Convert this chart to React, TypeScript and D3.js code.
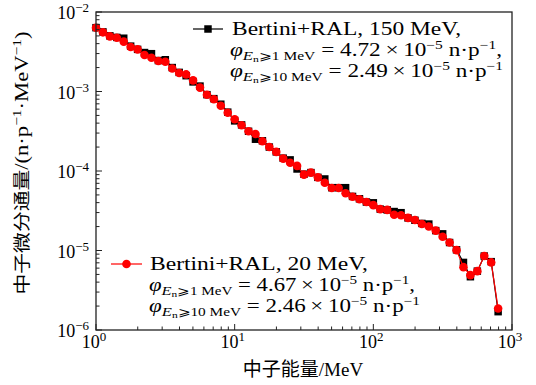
import React from 'react';
import * as d3 from 'd3';

// neutron energy bins (MeV)
const energy = [
  1.0, 1.122, 1.259, 1.413, 1.585, 1.778, 1.995, 2.239, 2.512, 2.818,
  3.162, 3.548, 3.981, 4.467, 5.012, 5.623, 6.31, 7.079, 7.943, 8.913,
  10.0, 11.22, 12.59, 14.13, 15.85, 17.78, 19.95, 22.39, 25.12, 28.18,
  31.62, 35.48, 39.81, 44.67, 50.12, 56.23, 63.1, 70.79, 79.43, 89.13,
  100, 112.2, 125.9, 141.3, 158.5, 177.8, 199.5, 223.9, 251.2, 281.8,
  316.2, 354.8, 398.1, 446.7, 501.2, 562.3, 631.0, 707.9, 794.3,
];

// Bertini+RAL, 150 MeV (black squares)
const flux150 = [
  6.35e-3, 5.62e-3, 5.01e-3, 4.79e-3, 4.68e-3, 3.72e-3, 3.39e-3, 3.09e-3, 2.99e-3, 2.45e-3,
  2.51e-3, 2.0e-3, 1.74e-3, 1.58e-3, 1.32e-3, 1.17e-3, 9.12e-4, 8.13e-4, 6.92e-4, 5.5e-4,
  4.27e-4, 3.8e-4, 3.16e-4, 2.51e-4, 2.4e-4, 2.0e-4, 1.74e-4, 1.45e-4, 1.38e-4, 1.06e-4,
  9.12e-5, 9.55e-5, 8.32e-5, 7.94e-5, 6.17e-5, 6.17e-5, 6.17e-5, 4.79e-5, 4.47e-5, 4.07e-5,
  3.98e-5, 3.31e-5, 3.24e-5, 3.09e-5, 2.99e-5, 2.57e-5, 2.4e-5, 2.19e-5, 2.15e-5, 1.78e-5,
  1.62e-5, 1.26e-5, 1.02e-5, 7.08e-6, 4.68e-6, 5.5e-6, 8.51e-6, 7.24e-6, 1.7e-6,
];

// Bertini+RAL, 20 MeV (red circles)
const flux20 = [
  6.35e-3, 5.55e-3, 4.94e-3, 4.75e-3, 4.24e-3, 3.63e-3, 3.39e-3, 2.88e-3, 2.66e-3, 2.42e-3,
  2.37e-3, 1.95e-3, 1.71e-3, 1.64e-3, 1.38e-3, 1.12e-3, 9.12e-4, 7.98e-4, 6.61e-4, 5.41e-4,
  4.47e-4, 3.76e-4, 3.16e-4, 2.92e-4, 2.37e-4, 2.0e-4, 1.74e-4, 1.43e-4, 1.27e-4, 1.16e-4,
  9.0e-5, 9.55e-5, 8.32e-5, 7.13e-5, 6.11e-5, 6.11e-5, 5.25e-5, 4.75e-5, 4.41e-5, 4.07e-5,
  3.72e-5, 3.31e-5, 3.24e-5, 2.82e-5, 2.77e-5, 2.57e-5, 2.42e-5, 2.15e-5, 2.0e-5, 1.78e-5,
  1.49e-5, 1.26e-5, 1.01e-5, 6.17e-6, 4.9e-6, 5.5e-6, 8.51e-6, 7.08e-6, 1.86e-6,
];

const xTickExps = [0, 1, 2, 3];
const yTickExps = [-2, -3, -4, -5, -6];

const legend150 = { name: 'Bertini+RAL, 150 MeV,', phi1: '4.72', phi10: '2.49' };
const legend20 = { name: 'Bertini+RAL, 20 MeV,', phi1: '4.67', phi10: '2.46' };

const SERIF = 'Liberation Serif, DejaVu Serif, Times New Roman, serif';
const CJK = 'Noto Sans CJK SC, sans-serif';

const W = 536, H = 385;
const left = 96, right = 512, top = 12, bottom = 330;

const isMajor = (v: number) => Math.abs(Math.log10(v) - Math.round(Math.log10(v))) < 1e-9;

function PhiLine({ x, y, thr, val, comma, len }: any) {
  return (
    <text x={x} y={y} style={{ fontFamily: SERIF }} fontSize={18} textLength={len} lengthAdjust="spacingAndGlyphs">
      <tspan fontStyle="italic">φ</tspan>
      <tspan fontSize={13} fontStyle="italic" dy={4}>E</tspan>
      <tspan fontSize={9} dy={2}>n</tspan>
      <tspan fontSize={12} dy={-2}>{'⩾' + thr + ' MeV'}</tspan>
      <tspan dy={-4}>{' = ' + val + '\u2009×\u200910'}</tspan>
      <tspan fontSize={12} dy={-7}>−5</tspan>
      <tspan dy={7}>{' n·p'}</tspan>
      <tspan fontSize={12} dy={-7}>−1</tspan>
      <tspan dy={7}>{comma ? ',' : ''}</tspan>
    </text>
  );
}

export default function App() {
  const x = d3.scaleLog().domain([1, 1000]).range([left, right]);
  const y = d3.scaleLog().domain([1e-6, 1e-2]).range([bottom, top]);

  const line = d3.line<number>()
    .x((_, i) => x(energy[i]))
    .y(d => y(d));

  const xt = x.ticks();
  const yt = y.ticks();
  const sym = d3.symbol().type(d3.symbolSquare).size(56);

  return (
    <svg width={W} height={H} style={{ position: 'absolute', left: 0, top: 0, background: '#fff' }}>
      {/* series */}
      <path d={line(flux150) || ''} fill="none" stroke="#000" strokeWidth={1.2} />
      {flux150.map((v, i) => (
        <path key={'b' + i} d={sym() || ''} transform={`translate(${x(energy[i])},${y(v)})`} fill="#000" />
      ))}
      <path d={line(flux20) || ''} fill="none" stroke="#ff0000" strokeWidth={1.2} />
      {flux20.map((v, i) => (
        <circle key={'r' + i} cx={x(energy[i])} cy={y(v)} r={4.3} fill="#ff0000" />
      ))}

      {/* frame */}
      <rect x={left} y={top} width={right - left} height={bottom - top} fill="none" stroke="#222" strokeWidth={1.3} />

      {/* ticks, pointing inward */}
      {xt.map((t, i) => (
        <line key={'xt' + i} x1={x(t)} x2={x(t)} y1={bottom} y2={bottom - (isMajor(t) ? 6 : 3.5)} stroke="#222" strokeWidth={1} />
      ))}
      {yt.map((t, i) => (
        <line key={'yt' + i} x1={left} x2={left + (isMajor(t) ? 6 : 3.5)} y1={y(t)} y2={y(t)} stroke="#222" strokeWidth={1} />
      ))}

      {/* tick labels */}
      {xTickExps.map(e => (
        <text key={'xl' + e} x={x(Math.pow(10, e)) - 2} y={348} textAnchor="middle" style={{ fontFamily: SERIF }} fontSize={18}>
          10<tspan fontSize={13} dy={-7}>{String(e)}</tspan>
        </text>
      ))}
      {yTickExps.map(e => (
        <text key={'yl' + e} x={89} y={y(Math.pow(10, e)) + 7} textAnchor="end" style={{ fontFamily: SERIF }} fontSize={18}>
          10<tspan fontSize={13} dy={-7}>{'−' + String(-e)}</tspan>
        </text>
      ))}

      {/* axis titles */}
      <text x={303} y={376} textAnchor="middle" fontSize={19}>
        <tspan style={{ fontFamily: CJK }}>中子能量</tspan>
        <tspan style={{ fontFamily: SERIF }}>/MeV</tspan>
      </text>
      <text transform="translate(28,163) rotate(-90)" textAnchor="middle" fontSize={19} textLength={263} lengthAdjust="spacingAndGlyphs">
        <tspan style={{ fontFamily: CJK }} fontSize={17.5}>中子微分通量</tspan>
        <tspan style={{ fontFamily: SERIF }}>/(n·p</tspan>
        <tspan style={{ fontFamily: SERIF }} fontSize={13} dy={-7}>−1</tspan>
        <tspan style={{ fontFamily: SERIF }} dy={7}>·MeV</tspan>
        <tspan style={{ fontFamily: SERIF }} fontSize={13} dy={-7}>−1</tspan>
        <tspan style={{ fontFamily: SERIF }} dy={7}>)</tspan>
      </text>

      {/* legend: 150 MeV */}
      <line x1={193} x2={223} y1={29} y2={29} stroke="#000" strokeWidth={1.2} />
      <path d={sym() || ''} transform="translate(208,29)" fill="#000" />
      <text x={232} y={35} style={{ fontFamily: SERIF }} fontSize={19} textLength={229} lengthAdjust="spacingAndGlyphs">{legend150.name}</text>
      <PhiLine x={230} y={56} thr="1" val={legend150.phi1} comma len={272} />
      <PhiLine x={230} y={77} thr="10" val={legend150.phi10} comma={false} len={273} />

      {/* legend: 20 MeV */}
      <line x1={111} x2={142} y1={264} y2={264} stroke="#ff0000" strokeWidth={1.2} />
      <circle cx={126.5} cy={264} r={4.3} fill="#ff0000" />
      <text x={150} y={270} style={{ fontFamily: SERIF }} fontSize={19} textLength={218} lengthAdjust="spacingAndGlyphs">{legend20.name}</text>
      <PhiLine x={149} y={291} thr="1" val={legend20.phi1} comma len={266} />
      <PhiLine x={149} y={312} thr="10" val={legend20.phi10} comma={false} len={271} />
    </svg>
  );
}
